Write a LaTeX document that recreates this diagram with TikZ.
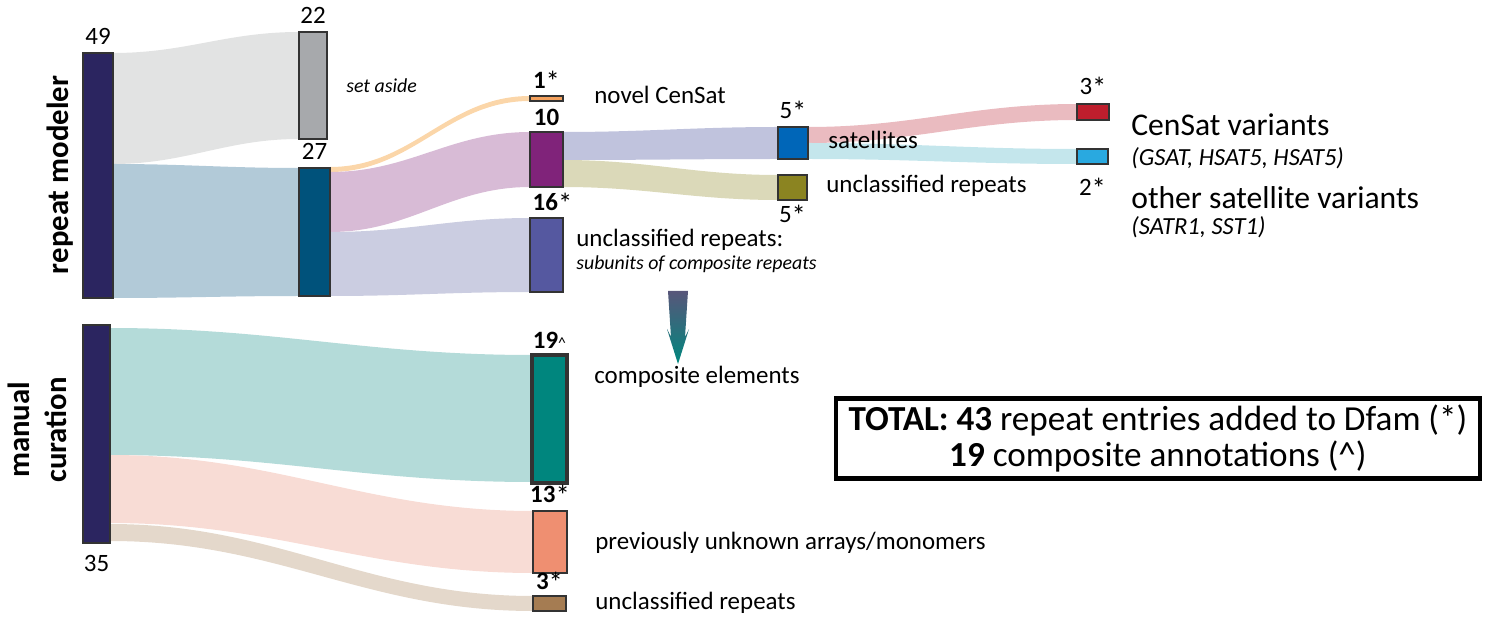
\documentclass[tikz,border=0pt]{standalone}
\usepackage{fontspec}
\setmainfont{Carlito}
\usetikzlibrary{positioning, fit, backgrounds}

\definecolor{navy}{HTML}{2B2560}
\definecolor{barline}{HTML}{333333}
\definecolor{asidegray}{HTML}{A7A9AC}
\definecolor{deepblue}{HTML}{00527B}
\definecolor{novelorange}{HTML}{F4A15D}
\definecolor{plum}{HTML}{80237A}
\definecolor{indigo}{HTML}{5558A0}
\definecolor{satblue}{HTML}{0066B8}
\definecolor{olive}{HTML}{8B8421}
\definecolor{cenred}{HTML}{BE1E2D}
\definecolor{skyblue}{HTML}{29A9E0}
\definecolor{teal}{HTML}{00867E}
\definecolor{salmon}{HTML}{EF8F71}
\definecolor{brown}{HTML}{A57C52}
\definecolor{flgray}{HTML}{E2E3E3}
\definecolor{flblue}{HTML}{B2CAD8}
\definecolor{florange}{HTML}{FBD6A9}
\definecolor{flplum}{HTML}{D8BBD6}
\definecolor{flindigo}{HTML}{CBCDE1}
\definecolor{flsat}{HTML}{C0C3DD}
\definecolor{flolive}{HTML}{DBD9B9}
\definecolor{flred}{HTML}{EABBC0}
\definecolor{flsky}{HTML}{C4E6EC}
\definecolor{flteal}{HTML}{B4DBD9}
\definecolor{flsalmon}{HTML}{F8DCD5}
\definecolor{flbrown}{HTML}{E4D8CB}
\definecolor{arrtop}{HTML}{58567A}
\definecolor{arrbot}{HTML}{00877E}

% flow band: colour, from node, top, bottom, to node, top, bottom
\newcommand{\flow}[7]{\fill[#1] (#2.east |- 0,#3) to[out=0,in=180] (#5.west |- 0,#6) -- (#5.west |- 0,#7) to[out=180,in=0] (#2.east |- 0,#4) -- cycle;}
\newcommand{\starx}{\raisebox{-0.25ex}{\scalebox{1.15}{*}}}

\begin{document}
\begin{tikzpicture}[x=0.02cm, y=-0.02cm,
    bar/.style={draw=barline, line width=0.9pt, inner sep=0pt, outer sep=0pt},
    num/.style={font=\fontsize{14.2}{17}\selectfont, inner sep=0pt},
    lbl/.style={font=\fontsize{14.2}{17}\selectfont, anchor=west, inner sep=0pt},
    note/.style={font=\itshape\fontsize{11.3}{13}\selectfont, anchor=west, inner sep=0pt},
    big/.style={font=\fontsize{18}{21}\selectfont, anchor=west, inner sep=0pt},
    bignote/.style={font=\itshape\fontsize{14}{17}\selectfont, anchor=west, inner sep=0pt},
    side/.style={font=\bfseries\fontsize{17.5}{21}\selectfont, rotate=90, align=center, inner sep=0pt}]
  \useasboundingbox (0,0) rectangle (1494,621);

  % bars
  \node[bar, fill=navy, fit={(83,53) (113,298)}] (rm) {};
  \node[bar, fill=asidegray, fit={(299,32) (327,139)}] (aside) {};
  \node[bar, fill=deepblue, fit={(299,168) (330,296)}] (kept) {};
  \node[bar, fill=novelorange, fit={(530,96) (563,101)}] (novel) {};
  \node[bar, fill=plum, fit={(530,132) (563,187)}] (ten) {};
  \node[bar, fill=indigo, fit={(530,218) (563,292)}] (sub) {};
  \node[bar, fill=satblue, fit={(778,127) (808,159)}] (sat) {};
  \node[bar, fill=olive, fit={(778,175) (807,200)}] (uncl) {};
  \node[bar, fill=cenred, fit={(1077,104) (1109,120)}] (cen) {};
  \node[bar, fill=skyblue, fit={(1077,149) (1108,164)}] (oth) {};
  \node[bar, fill=navy, fit={(83,325) (110,543)}] (mc) {};
  \node[bar, fill=teal, line width=1.8pt, fit={(532,355) (567,483)}] (comp) {};
  \node[bar, fill=salmon, fit={(533,511) (567,573)}] (prev) {};
  \node[bar, fill=brown, fit={(533,596) (566,611)}] (urep) {};

  % flows
  \begin{scope}[on background layer]
    \flow{flgray}{rm}{53}{164}{aside}{32}{139}
    \flow{flblue}{rm}{164}{298}{kept}{168}{296}
    \flow{florange}{kept}{167}{172}{novel}{96}{101}
    \flow{flplum}{kept}{172}{232}{ten}{132}{187}
    \flow{flindigo}{kept}{232}{296}{sub}{218}{292}
    \flow{flsat}{ten}{132}{160}{sat}{127}{159}
    \flow{flolive}{ten}{160}{187}{uncl}{175}{200}
    \flow{flred}{sat}{127}{143}{cen}{104}{120}
    \flow{flsky}{sat}{143}{159}{oth}{149}{164}
    \flow{flteal}{mc}{328}{455}{comp}{355}{482}
    \flow{flsalmon}{mc}{455}{523}{prev}{511}{573}
    \flow{flbrown}{mc}{524}{541}{urep}{596}{611}
  \end{scope}

  % counts
  \node[num, above=0.16cm of rm] {49};
  \node[num, above=0.16cm of aside] {22};
  \node[num, above=0.16cm of kept] {27};
  \node[num, above=0.08cm of novel] {\textbf{1}\starx};
  \node[num, above=0.12cm of ten] {\textbf{10}};
  \node[num, above=0.08cm of sub, xshift=0.12cm] {\textbf{16}\starx};
  \node[num, above=0.1cm of sat] {5\starx};
  \node[num, below=0.1cm of uncl] {5\starx};
  \node[num, above=0.12cm of cen] {3\starx};
  \node[num, below=0.28cm of oth] {2\starx};
  \node[num, below=0.24cm of mc] {35};
  \node[num, above=0.12cm of comp] {\textbf{19}{\fontsize{9}{10}\selectfont\textasciicircum}};
  \node[num, above=0.1cm of prev] {\textbf{13}\starx};
  \node[num, above=0.06cm of urep] {\textbf{3}\starx};

  % labels
  \node[side] (rmlab) at (60,175) {repeat modeler};
  \node[side] (mclab) at (37,430) {manual\\curation};
  \node[note] at (346,86) {set aside};
  \node[lbl] at (594,95) {novel CenSat};
  \node[lbl] at (828,140) {satellites};
  \node[lbl] at (826,186) {unclassified repeats};
  \node[lbl] at (576,240) {unclassified repeats:};
  \node[note] at (576,264) {subunits of composite repeats};
  \node[big] at (1131,125) {CenSat variants};
  \node[bignote] at (1131,158) {(GSAT, HSAT5, HSAT5)};
  \node[big] at (1131,198) {other satellite variants};
  \node[bignote] at (1131,227) {(SATR1, SST1)};
  \node[lbl] at (594,377) {composite elements};
  \node[lbl] at (595,543) {previously unknown arrays/monomers};
  \node[lbl] at (595,603) {unclassified repeats};

  \shade[top color=arrtop, bottom color=arrbot] (668,291) -- (688,291) -- (685,337) -- (689,329) -- (678,364) -- (667,329) -- (671,337) -- cycle;

  \node[draw, line width=2.3pt, minimum width=12.88cm, minimum height=1.58cm, align=center,
        font=\fontsize{20}{21}\selectfont] (total) at (1158,438.5)
    {\textbf{TOTAL: 43} repeat entries added to Dfam (*)\\\textbf{19} composite annotations (\textasciicircum)};
\end{tikzpicture}
\end{document}
